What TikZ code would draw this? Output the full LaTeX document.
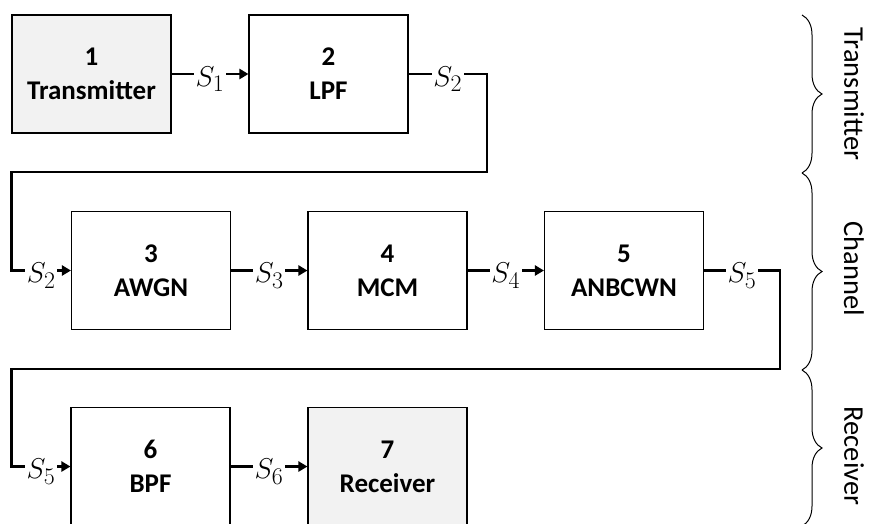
\documentclass[tikz,border=0pt]{standalone}
\usepackage{fontspec}
\setmainfont{Carlito}
\usetikzlibrary{arrows.meta,decorations.pathreplacing}
\newcommand\sig[1]{\scalebox{1.15}{$S_{#1}$}}
\begin{document}
\begin{tikzpicture}[x=1pt,y=-1pt,
  blk/.style={draw=black, line width=1.1pt, fill=white, minimum width=159pt, minimum height=118pt,
    align=center, inner sep=0pt, font=\fontsize{27}{34}\selectfont\bfseries},
  grayblk/.style={blk, fill=black!5},
  conn/.style={line width=2.9pt, -{Triangle[length=9pt,width=10pt]}},
  lab/.style={fill=white, inner sep=1.5pt, font=\Huge, yshift=-5pt},
  brc/.style={decorate, decoration={brace, amplitude=20pt}, line width=1pt},
  side/.style={rotate=-90, font=\fontsize{28.5}{32}\selectfont}]
\useasboundingbox (0,0) rectangle (874,523);
% boxes
\node[grayblk] (b1) at (91.5,74) {1\\Transmitter};
\node[blk] (b2) at (328.5,74) {2\\LPF};
\node[blk] (b3) at (151,270.5) {3\\AWGN};
\node[blk] (b4) at (387.5,270.5) {4\\MCM};
\node[blk] (b5) at (624,270.5) {5\\ANBCWN};
\node[blk] (b6) at (150.5,466.5) {6\\BPF};
\node[grayblk] (b7) at (387.5,466.5) {7\\Receiver};
\coordinate (r1) at (487,172);
\coordinate (r2) at (780,369);
% connectors
\draw[conn] (b1) -- node[lab]{\sig{1}} (b2);
\draw[conn] (b2.east) -- node[lab]{\sig{2}} (b2.east -| r1) -- (r1) -- (r1 -| b1.west) -- (b1.west |- b3) -- node[lab]{\sig{2}} (b3.west);
\draw[conn] (b3) -- node[lab]{\sig{3}} (b4);
\draw[conn] (b4) -- node[lab]{\sig{4}} (b5);
\draw[conn] (b5.east) -- node[lab]{\sig{5}} (b5.east -| r2) -- (r2) -- (r2 -| b1.west) -- (b1.west |- b6) -- node[lab]{\sig{5}} (b6.west);
\draw[conn] (b6) -- node[lab]{\sig{6}} (b7);
% braces
\coordinate (t1) at (802,15);
\coordinate (t2) at (802,173);
\coordinate (t3) at (802,370);
\coordinate (t4) at (802,526);
\draw[brc] (t1) -- (t2);
\draw[brc] (t2) -- (t3);
\draw[brc] (t3) -- (t4);
\node[side] (l1) at (854,94) {Transmitter};
\node[side] (l2) at (854,269) {Channel};
\node[side] (l3) at (854,456) {Receiver};
\end{tikzpicture}
\end{document}
